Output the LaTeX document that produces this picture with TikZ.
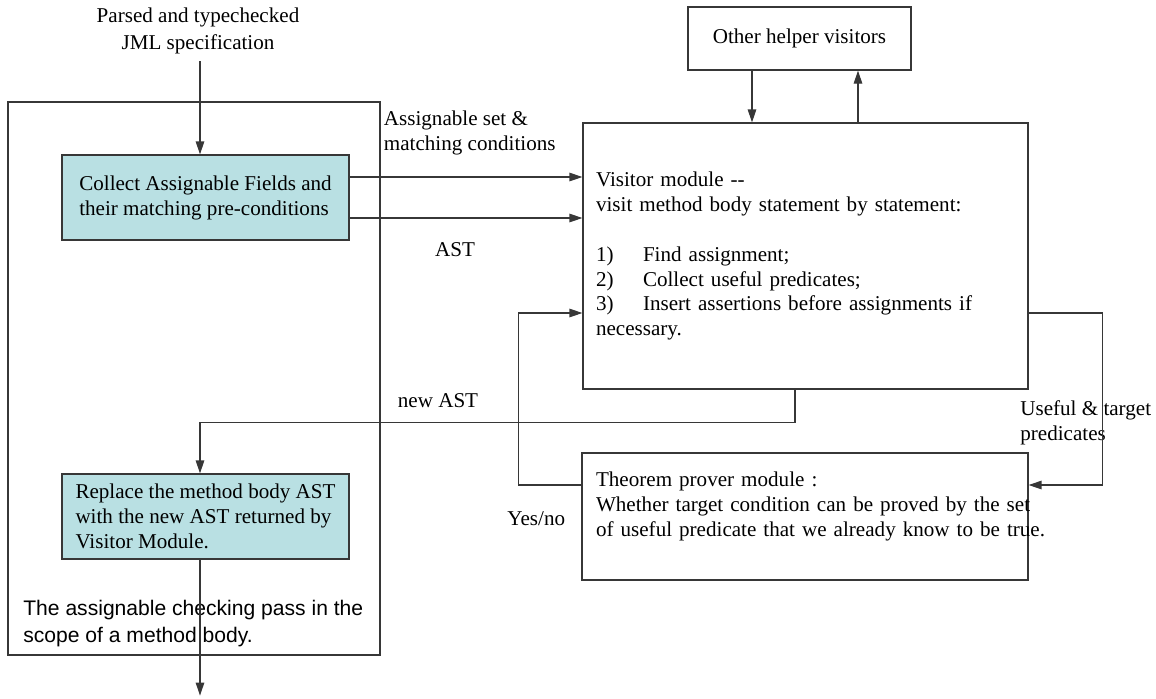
\documentclass[tikz,border=0pt]{standalone}
\usepackage{fontspec}
\setmainfont{Liberation Serif}
\setsansfont{Liberation Sans}
\usetikzlibrary{arrows.meta, positioning, calc}

\definecolor{stepfill}{RGB}{185,224,227}
\definecolor{edgegray}{RGB}{55,55,55}

\tikzset{
    every node/.style={font=\fontsize{12}{14.2}\selectfont},
    box/.style={draw=edgegray, line width=0.7pt, inner sep=0pt},
    stepbox/.style={box, fill=stepfill, minimum width=5.74cm, minimum height=1.7cm, align=left},
    lbl/.style={inner sep=0pt, align=left},
    arr/.style={draw=edgegray, line width=0.7pt, -{Triangle[length=2.6mm, width=1.7mm]}},
}

\begin{document}
\begin{tikzpicture}[x=0.02cm, y=-0.02cm]
    \useasboundingbox (0,0) rectangle (1156,698);

    % the checking pass
    \node[box, minimum width=7.44cm, minimum height=11.06cm] (pass) at (194,378.5) {};
    \node[lbl, align=center, inner ysep=4pt, font=\fontsize{12}{15.3}\selectfont] (spec) at (198,31) {Parsed and typechecked\\JML specification};
    \node[stepbox] (collect) at (205.5,197.5) {Collect Assignable Fields and\\their matching pre-conditions};
    \node[stepbox] (replace) at (205.5,516.5) {Replace the method body AST\\with the new AST returned by\\Visitor Module.};
    \node[lbl, anchor=west, font=\sffamily\fontsize{12}{15.3}\selectfont] (passlbl) at (23,623.5) {The assignable checking pass in the\\scope of a method body.};
    \coordinate[below=2.72cm of replace.south, xshift=-0.11cm] (passout);

    % visitors and prover
    \node[box, minimum width=4.46cm, minimum height=1.26cm] (helper) at (799.5,38.5) {Other helper visitors};
    \node[box, minimum width=8.9cm, minimum height=5.32cm, text width=8.38cm, align=left] (visitor) at (805.5,256) {Visitor module -{}-\\visit method body statement by statement:\\[14.2pt]
        \makebox[0.94cm][l]{1)}Find assignment;\\
        \makebox[0.94cm][l]{2)}Collect useful predicates;\\
        \makebox[0.94cm][l]{3)}Insert assertions before assignments if\\
        necessary.};
    \node[box, minimum width=8.92cm, minimum height=2.54cm, text width=8.36cm, align=left] (theorem) at (805,516.5) {Theorem prover module :\\\mbox{Whether target condition can be proved by the set}\\\mbox{of useful predicate that we already know to be true.}\\\mbox{}};
    \node[lbl, left=0.32cm of theorem, yshift=-0.05cm] (yesno) {Yes/no};
    \node[lbl, anchor=west] (usefullbl) at (1020,422.5) {Useful \& target\\predicates};

    \draw[arr] (spec.south -| collect.north) ++(-0.11cm,0) coordinate (specend) -- (specend |- collect.north);
    \draw[arr] ([yshift=0.41cm]collect.east) -- node[lbl, anchor=south west, pos=0.145, yshift=0.42cm] (setlbl) {Assignable set \&\\matching conditions} ([yshift=0.41cm]collect.east -| visitor.west);
    \draw[arr] ([yshift=-0.41cm]collect.east) -- node[lbl, anchor=north, pos=0.453, yshift=-0.48cm] (astlbl) {AST} ([yshift=-0.41cm]collect.east -| visitor.west);
    \draw[arr] ([xshift=-0.95cm]helper.south) -- ([xshift=-0.95cm]helper.south |- visitor.north);
    \draw[arr] ([xshift=1.17cm]helper.south |- visitor.north) -- ([xshift=1.17cm]helper.south);
    \draw[arr] ([xshift=-0.21cm]visitor.south) -- ++(0,33) -| node[lbl, pos=0.3, above=0.28cm] (newastlbl) {new AST} ([xshift=-0.11cm]replace.north);
    \draw[arr] ([xshift=-0.11cm]replace.south) -- (passout);
    \draw[arr] ([yshift=0.63cm]theorem.west) -- ++(-63,0) |- ([yshift=-1.14cm]visitor.west);
    \draw[arr] ([yshift=-1.14cm]visitor.east) -- ++(74,0) |- ([yshift=0.63cm]theorem.east);
\end{tikzpicture}
\end{document}
